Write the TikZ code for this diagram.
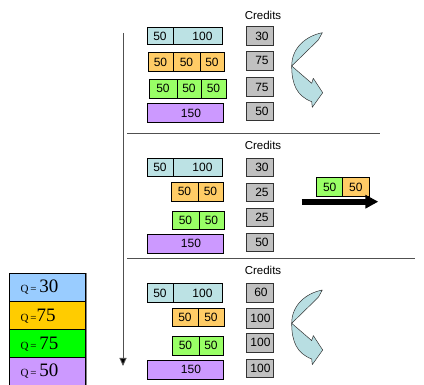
\documentclass[tikz,border=0pt]{standalone}
\usepackage{fontspec}
\setmainfont{Liberation Sans}
\newfontfamily\tnr{Liberation Serif}
\usetikzlibrary{arrows.meta}
\definecolor{cyanc}{HTML}{BCE2E4}
\definecolor{orangec}{HTML}{FFCC66}
\definecolor{greenc}{HTML}{99FF66}
\definecolor{purplec}{HTML}{CC99FF}
\definecolor{grayc}{HTML}{C0C0C0}
\definecolor{qblue}{HTML}{99CCFF}
\definecolor{qorange}{HTML}{FFCC00}
\definecolor{qgreen}{HTML}{00FF00}
\definecolor{qpurple}{HTML}{CC99FF}
\definecolor{linec}{HTML}{505050}
\definecolor{arrc}{HTML}{B8DEE2}
\tikzset{
  cell/.style={draw=black, line width=0.6pt, inner sep=0pt, font=\fontsize{12}{13}\selectfont},
  credit/.style={draw=black!80, line width=0.6pt, fill=grayc, inner sep=0pt, minimum width=26.6pt,
     font=\fontsize{12}{13}\selectfont},
  credlabel/.style={font=\fontsize{11.5}{12}\selectfont, inner sep=0pt},
  qbox/.style={draw=black, line width=0.6pt, inner sep=0pt, minimum width=75.7pt, minimum height=28pt},
  sepline/.style={draw=linec, line width=0.8pt},
  curvy/.pic={
    \draw[fill=arrc, draw=black!80, line width=0.5pt, line join=round]
      (0,0) -- (26.6,-26) -- (30.6,-33.3) .. controls (14,-30) and (0,-18) .. (0,0) -- cycle;
    \draw[fill=arrc, draw=black!80, line width=0.5pt, line join=round]
      (0,0) -- (20,17.3) -- (21.6,12.3) -- (31,26.7) -- (20.6,41.3) -- (20,35.7)
        .. controls (5,30) and (0,18) .. (0,0) -- cycle;
  }
}
\newcommand{\qtext}[2]{\makebox[53pt][l]{{\fontsize{11}{12}\selectfont Q\,#1}{\fontsize{19}{20}\selectfont #2}}}
\begin{document}
\begin{tikzpicture}[x=1pt,y=-1pt]
\useasboundingbox (0,0) rectangle (424,385);

% vertical time arrow
\coordinate (vtop) at (123,33);
\coordinate (vbot) at (123,366);
\draw[draw=linec, line width=0.9pt, -{Triangle[width=7pt,length=8pt,fill=black]}] (vtop) -- (vbot);

% separators
\coordinate (s1a) at (127,133); \coordinate (s1b) at (380,133);
\coordinate (s2a) at (127,258); \coordinate (s2b) at (415,258);
\draw[sepline] (s1a) -- (s1b);
\draw[sepline] (s2a) -- (s2b);

% ===== Section 1 =====
\node[credlabel] (cl1) at (263,15) {Credits};
\node[cell, fill=cyanc, minimum width=26pt, minimum height=16.6pt] (c1a) at (160,36) {50};
\node[cell, fill=cyanc, minimum width=49pt, minimum height=16.6pt] (c1b) at (197.5,36) {\hspace*{10pt}100};
\node[credit, minimum height=18.3pt] (r11) at (260,35.9) {\hspace*{4pt}30};
\node[cell, fill=orangec, minimum width=25pt, minimum height=19.4pt] (o1a) at (160.5,62) {50};
\node[cell, fill=orangec, minimum width=27pt, minimum height=19.4pt] (o1b) at (186.5,62) {50};
\node[cell, fill=orangec, minimum width=24pt, minimum height=19.4pt] (o1c) at (212,62) {50};
\node[credit, minimum height=18.3pt] (r12) at (260,60.9) {\raisebox{-2.5pt}{\hspace*{4pt}75}};
\node[cell, fill=greenc, minimum width=28pt, minimum height=19pt] (g1a) at (163,88.8) {50};
\node[cell, fill=greenc, minimum width=24pt, minimum height=19pt] (g1b) at (189,88.8) {50};
\node[cell, fill=greenc, minimum width=25pt, minimum height=19pt] (g1c) at (213.5,88.8) {50};
\node[credit, minimum height=19.4pt] (r13) at (260,87) {\raisebox{-1.5pt}{\hspace*{4pt}75}};
\node[cell, fill=purplec, minimum width=76pt, minimum height=19.4pt] (p1) at (185,113) {\raisebox{-4pt}{\hspace*{12pt}150}};
\node[credit, minimum height=18.4pt] (r14) at (260,111.5) {\hspace*{4pt}50};
\pic at (291.7,66) {curvy};

% ===== Section 2 =====
\node[credlabel] (cl2) at (263,145) {Credits};
\node[cell, fill=cyanc, minimum width=26pt, minimum height=18.4pt] (c2a) at (160,167.5) {50};
\node[cell, fill=cyanc, minimum width=49pt, minimum height=18.4pt] (c2b) at (197.5,167.5) {\hspace*{10pt}\raisebox{-1.5pt}{100}};
\node[credit, minimum height=18.4pt] (r21) at (260,167.5) {\raisebox{-2pt}{\hspace*{4pt}30}};
\node[cell, fill=orangec, minimum width=27pt, minimum height=18.3pt] (o2a) at (184.5,191.8) {50};
\node[cell, fill=orangec, minimum width=25pt, minimum height=18.3pt] (o2b) at (210.5,191.8) {50};
\node[credit, minimum height=18.4pt] (r22) at (260,192.5) {\raisebox{-3pt}{\hspace*{4pt}25}};
\node[cell, fill=greenc, minimum width=27pt, minimum height=18.3pt] (g2a) at (185.5,220.2) {50};
\node[cell, fill=greenc, minimum width=25pt, minimum height=18.3pt] (g2b) at (211.5,220.2) {50};
\node[credit, minimum height=18.4pt] (r23) at (260,217.5) {\hspace*{4pt}25};
\node[cell, fill=purplec, minimum width=76pt, minimum height=19pt] (p2) at (185,243.8) {\raisebox{-4pt}{\hspace*{12pt}150}};
\node[credit, minimum height=18.4pt] (r24) at (260,242.5) {\hspace*{4pt}50};

% side transfer
\node[cell, fill=greenc, minimum width=26pt, minimum height=19pt] (tg) at (329.7,187.2) {50};
\node[cell, fill=orangec, minimum width=26.3pt, minimum height=19pt] (to) at (355.85,187.2) {50};
\coordinate (ba0) at (301.7,201.7);
\coordinate (ba1) at (378.3,201.7);
\draw[line width=5.7pt, -{Triangle[width=13pt,length=13pt]}] (ba0) -- (ba1);

% ===== Section 3 =====
\node[credlabel] (cl3) at (263,270) {Credits};
\node[cell, fill=cyanc, minimum width=26pt, minimum height=19.4pt] (c3a) at (160,293) {50};
\node[cell, fill=cyanc, minimum width=49pt, minimum height=19.4pt] (c3b) at (197.5,293) {\hspace*{10pt}\raisebox{-1.5pt}{100}};
\node[credit, minimum height=19pt] (r31) at (260,292.5) {\raisebox{-1.5pt}{\hspace*{2pt}60}};
\node[cell, fill=orangec, minimum width=26pt, minimum height=18.4pt] (o3a) at (185,317.5) {50};
\node[cell, fill=orangec, minimum width=26pt, minimum height=18.4pt] (o3b) at (211,317.5) {50};
\node[credit, minimum height=20pt] (r32) at (260,318.3) {\raisebox{-2.5pt}{\hspace*{1pt}100}};
\node[cell, fill=greenc, minimum width=27pt, minimum height=19pt] (g3a) at (185.5,345.5) {50};
\node[cell, fill=greenc, minimum width=24pt, minimum height=19pt] (g3b) at (211,345.5) {50};
\node[credit, minimum height=19pt] (r33) at (260,342.8) {\raisebox{-1.5pt}{\hspace*{1pt}100}};
\node[cell, fill=purplec, minimum width=76pt, minimum height=19pt] (p3) at (185,369.5) {\raisebox{-2pt}{\hspace*{12pt}150}};
\node[credit, minimum height=18.7pt] (r34) at (260,368.3) {\hspace*{1pt}100};
\pic at (291.7,323.3) {curvy};

% ===== Q legend =====
\coordinate (shA) at (86,273.5); \coordinate (shB) at (86,385);
\draw[draw=gray, line width=1.5pt] (shA) -- (shB);
\node[qbox, fill=qblue] (q1) at (47.15,287.5) {\tnr\qtext{= }{30}};
\node[qbox, fill=qorange] (q2) at (47.15,315.7) {\tnr\qtext{=}{75}};
\node[qbox, fill=qgreen] (q3) at (47.15,343.7) {\tnr\qtext{= }{75}};
\node[qbox, fill=qpurple] (q4) at (47.15,371.35) {\tnr\qtext{= }{50}};
\end{tikzpicture}
\end{document}
